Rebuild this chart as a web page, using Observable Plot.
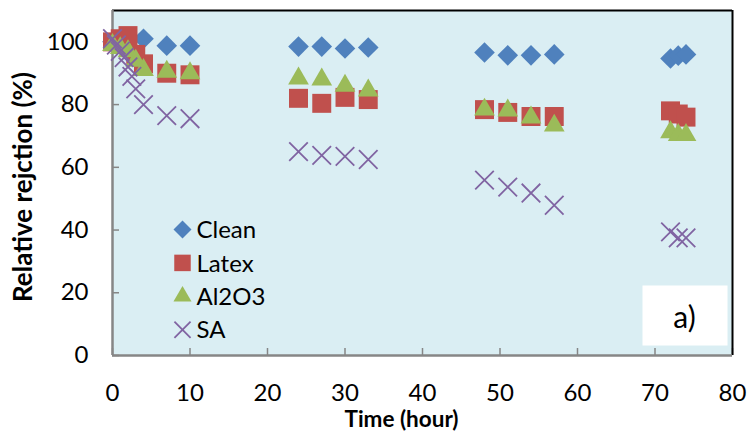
<!DOCTYPE html>
<html>
<head>
<meta charset="utf-8">
<script src="https://cdn.jsdelivr.net/npm/d3@7"></script>
<script src="https://cdn.jsdelivr.net/npm/@observablehq/plot@0.6"></script>
<style>
  html, body { margin: 0; padding: 0; background: white; }
</style>
</head>
<body>
<div id="chart"></div>
<script>
// ---- data ----
const seriesNames = ["Clean", "Latex", "Al2O3", "SA"];

const cleanT = [0, 1, 2, 4, 7, 10, 24, 27, 30, 33, 48, 51, 54, 57, 72, 73, 74];
const cleanV = [100, 101, 101.5, 101, 98.8, 98.8, 98.5, 98.5, 97.9, 98.2, 96.6, 95.7, 95.7, 96, 94.7, 95.6, 96];

const latexT = [0, 1, 2, 3, 4, 7, 10, 24, 27, 30, 33, 48, 51, 54, 57, 72, 73, 74];
const latexV = [100, 101, 102, 96, 93, 90, 89.5, 82, 80.4, 82.3, 81.6, 78.4, 77.5, 76.2, 76.2, 78, 77, 76];

const aluT = [0, 1, 2, 3, 4, 7, 10, 24, 27, 30, 33, 48, 51, 54, 57, 72, 73, 74];
const aluV = [99, 98, 97, 94, 91, 90.5, 90, 88.3, 88, 86, 84.5, 78.4, 78.1, 75.9, 73.3, 71.2, 70.3, 70.3];

const saT = [0, 0.5, 1, 1.5, 2, 2.5, 3, 4, 7, 10, 24, 27, 30, 33, 48, 51, 54, 57, 72, 73, 74];
const saV = [101, 99, 97, 95, 92, 89, 85, 80, 76.5, 75.5, 65, 63.8, 63.5, 62.5, 55.9, 53.7, 51.8, 47.9, 39.4, 37.5, 37.5];

const xTicks = [0, 10, 20, 30, 40, 50, 60, 70, 80];
const yTicks = [0, 20, 40, 60, 80, 100];

const colors = ["#4f81bd", "#c0504d", "#9bbb59", "#8064a2"];

const toRows = (T, V) => T.map((t, i) => ({t, v: V[i]}));
const clean = toRows(cleanT, cleanV);
const latex = toRows(latexT, latexV);
const alu = toRows(aluT, aluV);
const sa = toRows(saT, saV);

const W = 747, H = 433, ML = 112, MR = 15, MT = 10, MB = 78;
const FW = W - ML - MR, FH = H - MT - MB;

const symbols = ["diamond2", "square", "triangle", "times"];
const radii = [9.3, 10.7, 7.7, 8.5];

function dotOpts(i, extra = {}) {
  const o = {symbol: symbols[i], r: radii[i], ...extra};
  if (symbols[i] === "times") { o.stroke = colors[i]; o.strokeWidth = 1.8; o.fill = "none"; }
  else { o.fill = colors[i]; o.stroke = "none"; }
  return o;
}

const legendMarks = seriesNames.flatMap((name, i) => {
  const dy = 219 + i * 33.4;
  return [
    Plot.dot([name], dotOpts(i, {x: null, y: null, frameAnchor: "top-left", dx: 70, dy, r: radii[i] * 0.87})),
    Plot.text([name], {x: null, y: null, text: d => d, frameAnchor: "top-left", dx: 84, dy: dy + 1, textAnchor: "start", lineAnchor: "middle", fontSize: 24, fill: "black"})
  ];
});

const chart = Plot.plot({
  width: W, height: H,
  marginLeft: ML, marginRight: MR, marginTop: MT, marginBottom: MB,
  style: {fontFamily: "Lato", fontSize: "24px", background: "white", color: "black"},
  x: {domain: [0, 80]},
  y: {domain: [0, 110]},
  marks: [
    Plot.frame({fill: "#daeef3", stroke: "none"}),
    Plot.axisX(xTicks, {tickSize: 0, tickPadding: 28, label: null, fontSize: 24}),
    Plot.axisY(yTicks, {tickSize: 0, tickPadding: 24, label: null, fontSize: 24}),
    Plot.tickY(yTicks, {y: d => d, stroke: "#868686", strokeWidth: 1.5, insetRight: FW - 7}),
    Plot.tickX(xTicks, {x: d => d, stroke: "#868686", strokeWidth: 1.5, insetTop: FH - 7}),
    Plot.ruleX([80], {stroke: "black", strokeWidth: 2}),
    Plot.ruleY([110], {stroke: "black", strokeWidth: 2}),
    Plot.ruleX([0], {stroke: "#868686", strokeWidth: 2.5}),
    Plot.ruleY([0], {stroke: "#868686", strokeWidth: 2.5}),
    Plot.dot(clean, dotOpts(0, {x: "t", y: "v"})),
    Plot.dot(latex, dotOpts(1, {x: "t", y: "v"})),
    Plot.dot(alu, dotOpts(2, {x: "t", y: "v"})),
    Plot.dot(sa, dotOpts(3, {x: "t", y: "v"})),
    ...legendMarks,
    Plot.frame({fill: "white", stroke: "none", insetLeft: 530, insetRight: 5, insetTop: 275, insetBottom: 10}),
    Plot.text(["a)"], {x: null, y: null, text: d => d, frameAnchor: "bottom-right", dx: -48, dy: -37, textAnchor: "middle", lineAnchor: "middle", fontSize: 30, fill: "black"}),
    Plot.text(["Relative rejction (%)"], {x: null, y: null, text: d => d, frameAnchor: "left", dx: -89, dy: 4, rotate: -90, textAnchor: "middle", lineAnchor: "middle", fontSize: 26, fontWeight: "bold", fill: "black"}),
    Plot.text(["Time (hour)"], {x: null, y: null, text: d => d, frameAnchor: "bottom", dx: -21, dy: 64, textAnchor: "middle", lineAnchor: "middle", fontSize: 22.5, fontWeight: "bold", fill: "black"})
  ]
});

document.getElementById("chart").appendChild(chart);
</script>
</body>
</html>
